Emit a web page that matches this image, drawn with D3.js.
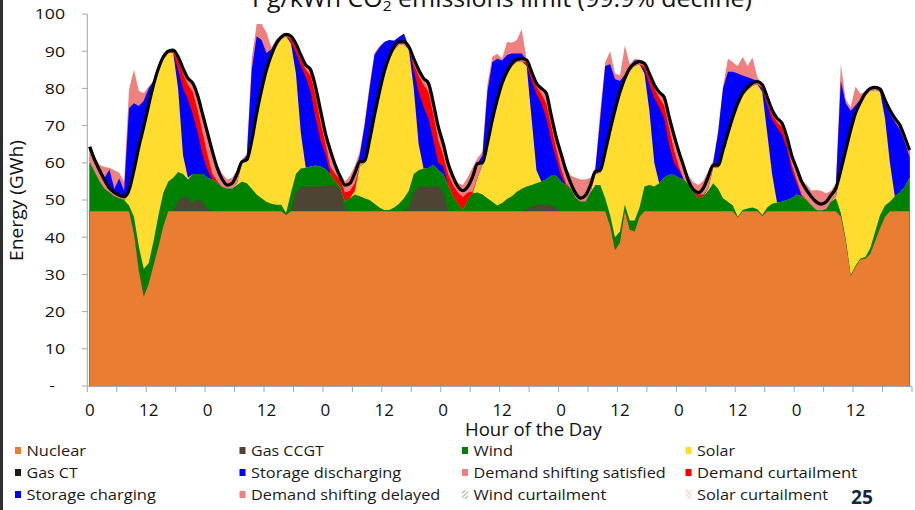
<!DOCTYPE html>
<html>
<head>
<meta charset="utf-8">
<script src="https://cdn.jsdelivr.net/npm/d3@7/dist/d3.min.js"></script>
<style>
html,body{margin:0;padding:0;background:#fff;overflow:hidden;}
svg{display:block;font-family:"Open Sans",sans-serif;}
</style>
</head>
<body>
<svg id="chart" width="915" height="510"></svg>
<script>
// ---------------- DATA (hourly, 7 days x 24 h, GWh) ----------------
const hourLabels = ["0","12","0","12","0","12","0","12","0","12","0","12","0","12"];
const yTickLabels = ["-","10","20","30","40","50","60","70","80","90","100"];
const yTickValues = [0,10,20,30,40,50,60,70,80,90,100];
const legendLabels = ["Nuclear","Gas CCGT","Wind","Solar","Gas CT","Storage discharging","Demand shifting satisfied","Demand curtailment","Storage charging","Demand shifting delayed","Wind curtailment","Solar curtailment"];

const load = [
 64.3,60.8,58,55.4,53.2,52,51.3,50.9,52.7,58,64.3,69.7,75.5,81,85.4,88.5,90,90.3,88.5,85.4,82.7,81.4,78,73,
 68,63,58.5,55.5,54,54.5,57,60.3,60.8,66,73.3,79.6,85,89,92,93.8,94.5,94,92,89,86.3,85,80.4,74.2,
 68,63.4,59.4,56.3,54,54.5,57.2,60.3,60.5,66.1,72.8,79,84.5,88.5,91.2,92.5,92.5,91.2,88,85,82.7,81.4,76,69.7,
 65.2,59.8,56.3,53.6,52.5,53.6,56.3,59.8,60,65.2,71.5,76.9,81.4,84.5,86.7,87.8,88,87.6,84.5,81.4,80,78.7,72.8,67,
 62.5,58,54.5,51.8,50.5,51.3,54,57.6,58,63,68.8,74.2,79,82.7,85.4,86.7,87.2,86.7,84,81,79,77.7,72.5,67.5,
 63,59,55,52.7,52,53.2,56.3,59.4,59.4,63.4,68,72.3,76,78.7,80.3,81.4,81.8,81,77.7,74.2,72,70.7,67,62,
 58.5,55,52.7,50.9,49.5,48.9,49.5,51.3,53.2,58,63.4,68.8,73.4,76.3,78.7,80,80.3,79.8,76.9,74.2,72,70.2,67,63.4
];

const nuclear = [
 47,47,47,47,47,47,47,47,47,41,31,24,27.5,32.5,37.5,43,47,47,47,47,47,47,47,47,
 47,47,47,47,47,47,47,47,47,47,47,47,47,47,47,47,46,47,47,47,47,47,47,47,
 47,47,47,47,47,47,47,47,47,47,47,47,47,47,47,47,47,47,47,47,47,47,47,47,
 47,47,47,47,47,47,47,47,47,47,47,47,47,47,47,47,47,47,47,47,47,47,47,47,
 47,47,47,47,47,47,47,47,47,47,43,36.5,38.5,47,42,41.5,45.5,47,47,47,47,47,47,47,
 47,47,47,47,47,47,47,47,47,47,47,47,45.3,47,47,47,47,45.7,47,47,47,47,47,47,
 47,47,47,47,47,47,47,47,47,45.5,39,29.5,32,34,34.2,35.5,39,42.5,45.5,47,47,47,47,47
];

const gasCCGT = [
 0,0,0,0,0,0,0,0,0,0,0,0,0,0,0,0,0,0,2.5,4,3.5,2,3.5,2,
 0.5,0,0,0,0,0,0,0,0,0,0,0,0,0,0,0,0,0,5,6.5,6.5,6.6,6.6,6.6,
 6.8,6.8,6.8,6,0.5,0,0,0,0,0,0,0,0,0,0,0,0,1,5,6.5,6.6,6.6,6.6,6.6,
 5,0,0,0,0,0,0,0,0,0,0,0,0,0,0,0,0,0.5,1.2,1.7,1.7,1.7,1.5,0.8,
 0,0,0,0,0,0,0,0,0,0,0,0,0,0,0,0,0,0,0,0,0,0,0,0,
 0,0,0,0,0,0,0,0,0,0,0,0,0,0,0,0,0,0,0,0,0,0,0,0,
 0,0,0,0,0,0,0,0,0,0,0,0,0,0,0,0,0,0,0,0,0,0,0,0
];

const wind = [
 13,10.5,8,6,5,4,3.5,3,1.5,4.5,6.5,7.5,5.5,6.5,8.5,9,8,9,8,6,5,8,6.5,8,
 8.5,8.5,7.5,6.5,6,6,7,8,7.5,6,4.5,3.5,2.5,2,1.7,1.7,0.5,5,5,5,5.2,5.4,5.7,5.4,
 4.5,3.2,1.2,0.5,2,3.5,4.5,4,3.5,3,2,1,0.3,0.3,1,2,3.5,4.5,5,4.5,4.9,5,5.9,4.4,
 5,7,4,2,0.3,3,4.8,5,4.5,3.5,2.5,1.5,2.2,3.3,4,5.2,6,6.1,5.8,5.8,6.3,6.8,8,8.7,
 8,7,6,3.5,2.5,2.5,5,7,7,3.5,3,3.5,3,1.7,2.5,3,2.5,6.6,7,6.6,7.5,9,9.8,9.8,
 9,8.5,7,5,3.5,4,5.5,7.5,6,3.5,2.5,1.5,0.2,0.3,0.7,1,0.5,0.3,1,2,2.3,2.5,3,3.5,
 4.5,4,3,1.5,0.3,0.2,0.5,2.5,3.5,1,0.5,0.3,0.3,0.3,0.5,1.5,2.5,3.5,3,2.5,4,5,6.5,9
];

const solar = [
 0,0,0,0,0,0,0,0,3,11.5,25.8,37.2,41.5,41,38.9,36,34.5,33.5,22.5,5,0.5,0,0,0,
 0,0,0,0,0,0,0.5,5,5.8,12.5,21.3,28.5,35,39.5,42.8,44.6,47.5,40,27,9.5,0,0,0,0,
 0,0,0,0,0,0,1,8,9.5,15.3,23,30.2,36.4,40.4,42.4,42.7,41.2,38,23,7,0,0,0,0,
 0,0,0,0,0,0,0,4,8,14,21.3,27.7,31.5,33.5,35,34.9,34.3,32.4,18,3.5,0,0,0,0,
 0,0,0,0,0,0,0,2.9,3.3,11.8,22.1,33.5,36.8,33.3,40.2,41.5,38.5,30.4,20,6.4,0,0,0,0,
 0,0,0,0,0,0,0.5,4.2,5.7,12.2,17.8,23.1,29.8,30.7,31.9,32.7,33.6,33,20,8,0,0,0,0,
 0,0,0,0,0,0,0,0,0.5,10.8,23.2,38.3,40.4,41.3,43.3,42.3,38.1,33,23.5,10.5,0,0,0,0
];

const storageDischarging = [
 0,0,0,0,0,0,0,0,0,0,0,0,0,0,0,0,0,0,5,18,21,16,11,5,
 2,0,0,0,0,0,0,0,0,0,0,0,0,0,0,0,0,0.5,5.5,18,24.3,20,12.7,7,
 4,0,0,0,0,0,0,0,0,0,0,0,0,0,0,0,0,0,5,14,16.5,13.4,6.5,2,
 2,0,0,0,0,0,0,0,0,0,0,0,0,0,0,0,0,0.3,10,20.5,21,16.5,9.5,4.5,
 1.5,0,0,0,0,0,0,0,0,0,0,0,0,0,0,0,0,1,7,17.5,20.5,16,8.2,3.2,
 2,0,0,0,0,0,0,0,0,0,0,0,0,0,0,0,0,0.8,7.5,14.5,20.2,18,14,7.5,
 3,0,0,0,0,0,0,0,0,0,0,0,0,0,0,0,0,0,4,13.2,20,17,12,5.5
];

const demandCurtailment = [
 0,0,0,0,0,0,0,0,0,0,0,0,0,0,0,0,0,0.5,2.5,4,4,6,6,6,
 4,1.5,0.5,0,0,0,0,0,0,0,0,0,0,0,0,0,0,1,1.5,2,2,4.5,6,5,
 3,2,2,2,2.5,2,2,0,0,0,0,0,0,0,0,0,0,0.5,1.5,4.5,6,7,7,6,
 3,3,3,3,3.5,2,0.5,0,0,0,0,0,0,0,0,0,0,0.7,1.5,2,2.5,4,4,3,
 2,0.5,0,0,0,0,0,0,0,0,0,0,0,0,0,0,0,1,2,2.5,2.5,3.5,4.5,3.5,
 1,0,0,0.3,1,0.5,0,0,0,0,0,0,0,0,0,0,0,0.5,1,1.5,1.5,2,1.5,1.5,
 1,0.5,0,0,0,0,0,0,0,0,0,0,0,0,0,0,0,0,0,0,0,0,0,0
];

const demandShiftSatisfied = [
 4.3,3.3,3,2.4,1.2,1,0.8,0.9,1.2,1,1,1,1,1,0.5,0.5,0.5,0.3,1,1.4,1.7,2.4,4,5,
 6,6,3.5,2,1,1.5,2.5,0.3,0.5,0.5,0.5,0.6,0.5,0.5,0.5,0.5,0.5,0.5,1,1,1.3,1.5,2.4,3.2,
 2.7,4.4,2.4,0.8,2,2,2.7,1.3,0.5,0.8,0.8,0.8,0.8,0.8,0.8,0.8,0.8,0.2,1.5,1.5,1.7,2.4,3,3.7,
 3.2,2.8,2.3,1.6,1.7,1.6,4,3.8,0.5,0.7,0.7,0.7,0.7,0.7,0.7,0.7,0.7,0.6,1,0.9,1.5,2.7,2.8,3,
 4,3.5,1.5,1.3,1,1.8,2,0.7,0.7,0.7,0.7,0.7,0.7,0.7,0.7,0.7,0.7,0.7,1,1,1.5,2.2,3,4,
 4,3.5,1,0.4,0.5,1.7,3.3,0.7,0.7,0.7,0.7,0.7,0.7,0.7,0.7,0.7,0.7,0.7,1.2,1.2,1,1.2,1.5,2.5,
 3,3.5,2.7,2.4,2.2,1.7,2,1.8,2.2,0.7,0.7,0.7,0.7,0.7,0.7,0.7,0.7,0.8,0.9,1,1,1.2,1.5,1.9
];

const storageCharging = [
 0,0,0,0.5,5,1,4.5,1.5,22,18,11,7,4.5,1,0,0,0,0,0,0,0,0,0,0,
 0,0,0,0,0,0,0,0,1.2,19,20.7,13.4,4.5,1.5,0.8,0.2,0,0,0,0,0,0,0,0,
 0,0,0,0,0,0,0,1.7,9.5,13.9,16.2,12,8,4.5,1.6,1.3,2.2,0,0,0,0,0,0,0,
 0,0,0,0,0,0,0,0,2,13.8,15.5,11.1,6.1,4.5,2.7,1.6,1.4,0,0,0,0,0,0,0,
 0,0,0,0,0,0,0,0.7,14,23,17.7,8.3,3,1,0.6,0.8,0.3,0,0,0,0,0,0,0,
 0,0,0,0,0,0,0,0.6,8.6,16.6,16.5,12.2,8,4.8,2.7,1.1,0.2,0,0,0,0,0,0,0,
 0,0,0,0,0,0,0,0,0.8,24,12.6,5.2,2.1,0.7,0.5,0.3,0,0,0,0,0,0,0,0
];

const demandShiftDelayed = [
 0.5,0.8,1.5,3,0.5,5,1.5,2.5,5,9,4,2,0.5,0,0,0,0,0,0,0,0,0,0,0,
 0,0,1,1.5,1.5,1.5,1,0.5,0.5,3,3.3,4.3,5.5,0.5,0.5,0.3,0,0,0,0,0,0,0,0,
 0,1,1,1,1,2,2,1,1,1,0.5,0.3,0,0,0,0,0,0,0,0,0,0,0,0,
 0,0,0.5,1,1.5,2.5,2.5,1.5,1,2,1.5,1.3,0.5,3.5,2.9,3.6,6.5,0,0,0,0,0,0,0,
 0,1,2,4.2,5,4.2,2,0.5,2,1,3.5,1.5,1.5,7.8,0.5,0.5,0.3,0,0,0,0,0,0,0,
 0,0.5,1.5,2,2,2,1.5,0.5,0.5,0.5,3.5,2.5,2,5,3,5.8,1,0,0,0,0,0,0,0,
 0,0.5,1.5,1.6,3.2,3.6,2.3,1.2,0.5,4.5,1,1,5,1.5,0,0,0,0,0,0,0,0,0,0
];

// ---------------- DRAWING ----------------
const W = 915, H = 510;
const svg = d3.select('#chart');
const x = d3.scaleLinear().domain([-0.5, 167.5]).range([87.3, 912]);
const y = d3.scaleLinear().domain([0, 100]).range([386, 14]);

const colors = {
  nuclear: '#E97D31', gasCCGT: '#4E4433', wind: '#008000', solar: '#FFDC2E', gasCT: '#1a1a1a',
  storageDischarging: '#0000FF', demandCurtailment: '#FF0000', demandShiftSatisfied: '#F08080',
  storageCharging: '#0000FF', demandShiftDelayed: '#F08080'
};

const defs = svg.append('defs');
const pw = defs.append('pattern').attr('id','hatchWind').attr('width',3).attr('height',3)
  .attr('patternUnits','userSpaceOnUse').attr('patternTransform','rotate(45)');
pw.append('line').attr('x1',0).attr('y1',0).attr('x2',0).attr('y2',3).attr('stroke','#4a9e4a').attr('stroke-width',1.3);
const ps = defs.append('pattern').attr('id','hatchSolar').attr('width',3).attr('height',3)
  .attr('patternUnits','userSpaceOnUse').attr('patternTransform','rotate(-45)');
ps.append('line').attr('x1',0).attr('y1',0).attr('x2',0).attr('y2',3).attr('stroke','#EBA78F').attr('stroke-width',1.3);

svg.append('rect').attr('width',W).attr('height',H).attr('fill','#fff');
svg.append('rect').attr('x',0).attr('y',0).attr('width',3).attr('height',H).attr('fill','#2f2f2f');

const keys = ['nuclear','gasCCGT','wind','solar','storageDischarging','demandCurtailment','demandShiftSatisfied','storageCharging','demandShiftDelayed'];
const seriesData = {nuclear, gasCCGT, wind, solar, storageDischarging, demandCurtailment, demandShiftSatisfied, storageCharging, demandShiftDelayed};
const rows = load.map((v, i) => { const r = {hour: i}; keys.forEach(k => r[k] = seriesData[k][i]); return r; });
const stacked = d3.stack().keys(keys).order(d3.stackOrderNone).offset(d3.stackOffsetNone)(rows);

// draw each layer from zero to its cumulative top, topmost first (avoids seams)
const areaTop = d3.area().x((d, i) => x(i)).y0(y(0)).y1(d => y(d[1]));
svg.append('g').selectAll('path').data(stacked.slice().reverse()).join('path')
  .attr('fill', d => colors[d.key]).attr('d', areaTop);

// axes
const axisColor = '#A6A6A6';
const ax = svg.append('g');
ax.append('line').attr('x1',87.3).attr('x2',87.3).attr('y1',y(100)).attr('y2',y(0)+0.5).attr('stroke',axisColor).attr('stroke-width',1);
ax.append('line').attr('x1',87.3).attr('x2',912).attr('y1',y(0)+0.5).attr('y2',y(0)+0.5).attr('stroke',axisColor).attr('stroke-width',1);
yTickValues.forEach((v, i) => {
  ax.append('line').attr('x1',82).attr('x2',87.3).attr('y1',y(v)).attr('y2',y(v)).attr('stroke',axisColor);
  const isZero = v === 0;
  ax.append('text').text(yTickLabels[i])
    .attr('text-anchor','end').attr('font-size',15).attr('fill','#111')
    .attr('transform', `translate(${isZero ? 55 : 65},${y(v) + 5.3}) scale(1.18,1)`);
});
d3.range(0, 29).forEach(k => {
  const xv = x(-0.5 + 6 * k);
  ax.append('line').attr('x1',xv).attr('x2',xv).attr('y1',y(0)+0.5).attr('y2',392).attr('stroke',axisColor);
});
hourLabels.forEach((lab, i) => {
  ax.append('text').text(lab).attr('x', x(12 * i)).attr('y', 416)
    .attr('text-anchor','middle').attr('font-size',17).attr('fill','#111');
});

// load line
const line = d3.line().x((d, i) => x(i)).y(d => y(d)).curve(d3.curveMonotoneX);
svg.append('path').datum(load).attr('d', line).attr('fill','none')
  .attr('stroke','#000').attr('stroke-width',3.2).attr('stroke-linejoin','round');

// text fitting helper
function fit(sel, x0, width) {
  const w = sel.node().getComputedTextLength();
  sel.attr('x', 0).attr('transform', `translate(${x0},0) scale(${width / w},1)`);
}

// title (cut off at top of the frame, as in the source slide)
const title = svg.append('text').attr('y', 6.5).attr('font-size', 24).attr('fill','#111');
title.append('tspan').text('Pg/kWh CO');
title.append('tspan').text('2').attr('font-size', 15).attr('dy', 4);
title.append('tspan').text(' emissions limit (99.9% decline)').attr('dy', -4);
fit(title, 252, 500);

// axis titles
const xt = svg.append('text').text('Hour of the Day').attr('y', 436).attr('font-size', 18).attr('fill','#111');
fit(xt, 465, 137);
const yt = svg.append('text').text('Energy (GWh)').attr('font-size', 18).attr('fill','#111')
  .attr('text-anchor','middle').attr('transform','translate(23,200.5) rotate(-90)');
{
  const w = yt.node().getComputedTextLength();
  yt.attr('transform', `translate(23,200.5) rotate(-90) scale(${121 / w},1)`);
}

// legend
const legendFill = ['#E97D31','#4E4433','#008000','#FFDC2E','#1a1a1a','#0000FF','#F08080','#FF0000','#0000FF','#F08080','url(#hatchWind)','url(#hatchSolar)'];
const colX = [26.5, 251, 473.5, 697];
const rowBase = [456, 478, 500];
const legendWidths = [59.5, 73, 39.6, 38, 51.3, 150.4, 192.4, 160.3, 129.5, 189.5, 133, 131.2];
legendLabels.forEach((lab, i) => {
  const c = i % 4, r = Math.floor(i / 4);
  const tx = colX[c], by = rowBase[r];
  const hatched = i >= 10;
  svg.append('rect').attr('x', tx - 11.5).attr('y', by - (hatched ? 10 : 9)).attr('width', 6).attr('height', hatched ? 9 : 7)
    .attr('fill', legendFill[i]);
  const t = svg.append('text').text(lab).attr('y', by).attr('font-size', 15).attr('fill','#1a1a1a');
  fit(t, tx, legendWidths[i]);
});

// page number
const pn = svg.append('text').text('25').attr('y', 504).attr('font-size', 19).attr('font-weight', 700).attr('fill','#1c2541');
fit(pn, 851, 22);
</script>
</body>
</html>
